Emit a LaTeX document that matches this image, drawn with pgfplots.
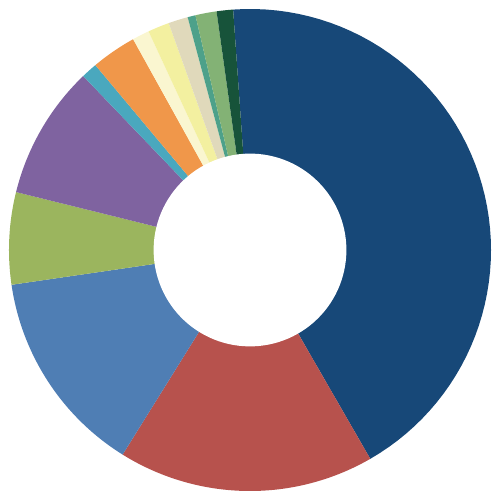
\documentclass[border=0pt]{standalone}
\usepackage{pgfplots}
\usepackage{pgfplotstable}
\pgfplotsset{compat=1.18}

\definecolor{c1}{RGB}{23,72,120}
\definecolor{c2}{RGB}{183,82,77}
\definecolor{c3}{RGB}{79,126,180}
\definecolor{c4}{RGB}{155,181,94}
\definecolor{c5}{RGB}{127,99,160}
\definecolor{c6}{RGB}{74,168,190}
\definecolor{c7}{RGB}{240,151,74}
\definecolor{c8}{RGB}{250,246,208}
\definecolor{c9}{RGB}{243,240,160}
\definecolor{c10}{RGB}{224,217,187}
\definecolor{c11}{RGB}{77,161,138}
\definecolor{c12}{RGB}{131,178,117}
\definecolor{c13}{RGB}{23,83,58}

% share of each slice in percent, clockwise from the top
\pgfplotstableread{
value color
42.80 c1
17.18 c2
13.83 c3
6.17  c4
8.97  c5
1.08  c6
3.03  c7
1.14  c8
1.44  c9
1.31  c10
0.53  c11
1.42  c12
1.10  c13
}\piedata

\begin{document}
\begin{tikzpicture}
\begin{axis}[
    scale only axis,
    width=10cm, height=10cm,
    xmin=-1.0373, xmax=1.0373,
    ymin=-1.0373, ymax=1.0373,
    axis line style={draw=none},
    xtick=\empty, ytick=\empty,
]
\pgfplotstablegetrowsof{\piedata}
\pgfmathtruncatemacro\N{\pgfplotsretval-1}
\def\acc{94.02}
\pgfplotsforeachungrouped \i in {0,...,\N}{
    \pgfplotstablegetelem{\i}{value}\of\piedata
    \let\v\pgfplotsretval
    \pgfplotstablegetelem{\i}{color}\of\piedata
    \let\c\pgfplotsretval
    \pgfmathsetmacro\aend{\acc-3.6*\v}
    \edef\temp{\noexpand\addplot[fill=\c, draw=none, domain=\aend:\acc, samples=60]
        ({cos(x)},{sin(x)}) -- (axis cs:0,0) -- cycle;}
    \temp
    \let\acc\aend
}
% hole
\addplot[fill=white, draw=none, domain=0:360, samples=120] ({0.4*cos(x)},{0.4*sin(x)}) -- cycle;
\end{axis}
\end{tikzpicture}
\end{document}
